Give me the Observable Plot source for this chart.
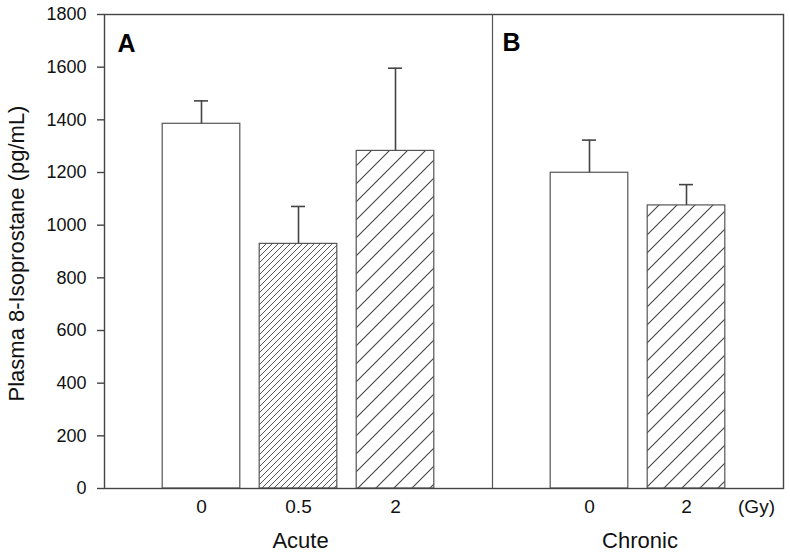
<!DOCTYPE html>
<html><head><meta charset="utf-8">
<script src="https://cdn.jsdelivr.net/npm/d3@7"></script>
<script src="https://cdn.jsdelivr.net/npm/@observablehq/plot@0.6"></script>
<style>body{margin:0;background:#fff}</style>
</head><body><div id="chart"></div>
<script>
// ---- data ----
const groups = ["Acute", "Acute", "Acute", "Chronic", "Chronic"];
const doses = ["0", "0.5", "2", "0", "2"];
const means = [1385, 929, 1282, 1199, 1075];
const errors = [87, 142, 314, 124, 79];
const yTicks = [0, 200, 400, 600, 800, 1000, 1200, 1400, 1600, 1800];
const groupNames = ["Acute", "Chronic"];
const panelLetters = ["A", "B"];
const doseUnit = "(Gy)";
const yTitle = "Plasma 8-Isoprostane (pg/mL)";

const data = groups.map((g, i) => ({
  group: g, dose: doses[i], mean: means[i], err: errors[i],
  slot: i + 1 + groupNames.indexOf(g)
}));
const slotsOf = g => data.filter(d => d.group === g).map(d => d.slot);
const divider = (d3.max(slotsOf("Acute")) + d3.min(slotsOf("Chronic"))) / 2;
const centers = groupNames.map(g => ({name: g, x: d3.mean(slotsOf(g))}));
const ink = "#444";

const chart = Plot.plot({
  width: 790, height: 554,
  marginLeft: 104, marginRight: 7, marginTop: 14, marginBottom: 66,
  x: {domain: [0, 7], axis: null},
  y: {domain: [0, 1800], axis: null},
  color: {type: "ordinal", domain: ["0", "0.5", "2"], range: ["white", "url(#hatchDense)", "url(#hatchWide)"]},
  style: {fontFamily: "'Liberation Sans', Arial, sans-serif", color: "#111", background: "white"},
  marks: [
    Plot.rect(data, {x1: d => d.slot - 0.4, x2: d => d.slot + 0.4, y1: 0, y2: "mean", fill: "dose", stroke: "#555", strokeWidth: 1.2}),
    Plot.ruleX(data, {x: "slot", y1: "mean", y2: d => d.mean + d.err, stroke: ink, strokeWidth: 1.6}),
    Plot.ruleY(data, {y: d => d.mean + d.err, x1: d => d.slot - 0.072, x2: d => d.slot + 0.072, stroke: ink, strokeWidth: 1.6}),
    Plot.ruleX([divider], {stroke: "#555", strokeWidth: 1.2}),
    Plot.frame({stroke: ink, strokeWidth: 1.4}),
    Plot.axisY({ticks: yTicks, tickFormat: d => String(d), tickSize: 7, tickPadding: 11, fontSize: 18, stroke: ink, strokeWidth: 1.4, label: null}),
    Plot.axisX({ticks: data.map(d => d.slot), tickFormat: s => data.find(d => d.slot === s).dose, tickSize: 0, tickPadding: 11, fontSize: 19, label: null}),
    Plot.text([doseUnit], {frameAnchor: "bottom-right", dx: -27, dy: 11, lineAnchor: "top", textAnchor: "middle", fontSize: 19, fill: "#111"}),
    Plot.text(centers, {x: "x", text: "name", frameAnchor: "bottom", lineAnchor: "bottom", dy: 59, dx: 2, fontSize: 22, fill: "#111"}),
    Plot.text([panelLetters[0]], {frameAnchor: "top-left", textAnchor: "start", lineAnchor: "bottom", dx: 13, dy: 37, fontSize: 25, fontWeight: "bold", fill: "#000"}),
    Plot.text([panelLetters[1]], {x: [divider], text: d => panelLetters[1], frameAnchor: "top", textAnchor: "start", lineAnchor: "bottom", dx: 10, dy: 36, fontSize: 25, fontWeight: "bold", fill: "#000"}),
    Plot.text([yTitle], {frameAnchor: "left", rotate: -90, dx: -88, dy: 2, lineAnchor: "middle", textAnchor: "middle", fontSize: 22, fill: "#111"})
  ]
});

// hatch patterns
const svg = d3.select(chart);
const defs = svg.insert("defs", ":first-child");
function hatch(id, s, w) {
  const p = defs.append("pattern").attr("id", id).attr("patternUnits", "userSpaceOnUse")
    .attr("width", s).attr("height", s);
  p.append("rect").attr("width", s).attr("height", s).attr("fill", "white");
  p.append("path")
    .attr("d", `M0,${s} L${s},0 M${-s/4},${s/4} L${s/4},${-s/4} M${3*s/4},${5*s/4} L${5*s/4},${3*s/4}`)
    .attr("stroke", ink).attr("stroke-width", w).attr("fill", "none");
}
hatch("hatchDense", 6, 0.9);
hatch("hatchWide", 18, 1.1);

document.getElementById("chart").append(chart);
</script>
</body></html>
